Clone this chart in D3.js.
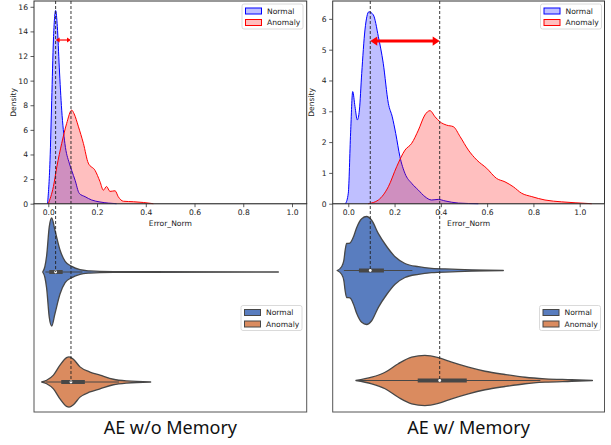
<!DOCTYPE html>
<html>
<head>
<meta charset="utf-8">
<script src="https://cdn.jsdelivr.net/npm/d3@7"></script>
<style>
body{margin:0;background:#fff;}
svg{display:block;}
</style>
</head>
<body>
<div id="chart"></div>
<script>
//panel titles and labels
let titles = ["AE w/o Memory", "AE w/ Memory"];
let groups = ["Normal", "Anomaly"];
let xTicks = [0, 0.2, 0.4, 0.6, 0.8, 1.0];
let leftYTicks = [0, 2, 4, 6, 8, 10, 12, 14, 16];
let rightYTicks = [0, 1, 2, 3, 4, 5, 6];

//KDE curves [error, density]
let leftNormalKde = [[-0.003,0],[0.007,3.5],[0.014,8.4],[0.021,13.3],[0.03,15.7],[0.037,14.4],[0.045,11.1],
	[0.055,7.6],[0.068,4.9],[0.086,3.3],[0.096,2.7],[0.11,1.9],[0.127,0.84],[0.151,0.57],[0.178,0.3],
	[0.212,0.14],[0.246,0.05],[0.28,0]];
let leftAnomalyKde = [[0.0,0],[0.021,1.4],[0.035,3.0],[0.055,4.9],[0.075,6.5],[0.096,7.6],[0.106,7.3],
	[0.123,6.3],[0.144,4.9],[0.164,3.3],[0.192,2.7],[0.212,1.8],[0.226,1.1],[0.239,1.4],[0.253,1.0],
	[0.274,1.05],[0.287,0.57],[0.308,0.2],[0.349,0.16],[0.39,0.1],[0.431,0]];
let rightNormalKde = [[-0.012,0],[0.0,0.34],[0.01,2.3],[0.019,3.64],[0.029,3.15],[0.039,2.72],[0.048,3.04],
	[0.058,4.23],[0.072,5.64],[0.089,6.23],[0.108,6.13],[0.13,5.42],[0.151,4.56],[0.173,3.26],[0.19,2.82],
	[0.205,2.28],[0.223,1.53],[0.245,0.98],[0.274,0.66],[0.303,0.44],[0.331,0.23],[0.36,0.12],[0.389,0.14],
	[0.418,0.09],[0.476,0.02],[0.562,0]];
let rightAnomalyKde = [[0.086,0],[0.13,0.12],[0.173,0.55],[0.209,1.2],[0.245,1.74],[0.274,1.96],[0.303,2.39],
	[0.331,2.88],[0.353,3.02],[0.375,2.82],[0.396,2.66],[0.425,2.55],[0.454,2.5],[0.483,2.18],[0.519,1.74],
	[0.555,1.42],[0.598,1.15],[0.641,0.82],[0.677,0.71],[0.713,0.55],[0.749,0.34],[0.793,0.23],[0.85,0.12],
	[0.922,0.06],[0.98,0.03],[1.052,0]];

//violin profiles [error, density]
let leftNormalViolin = [[-0.023,0],[-0.014,1.6],[-0.007,4.6],[0.004,13.2],[0.014,15.7],[0.027,12.2],[0.048,6.4],
	[0.069,3.1],[0.096,1.65],[0.13,0.68],[0.171,0.31],[0.212,0.16],[0.4,0.08],[0.944,0]];
let leftAnomalyViolin = [[-0.027,0],[-0.007,0.5],[0.021,2.0],[0.048,4.9],[0.075,7.1],[0.085,7.3],[0.103,6.6],
	[0.13,4.4],[0.171,2.9],[0.212,2.0],[0.267,0.8],[0.322,0.3],[0.42,0]];
let rightNormalViolin = [[-0.048,0],[-0.029,0.44],[-0.019,1.2],[-0.014,2.3],[-0.007,3.15],[0.007,3.2],[0.022,3.9],
	[0.036,5.0],[0.058,6.05],[0.079,6.3],[0.101,5.86],[0.13,4.3],[0.166,2.8],[0.202,1.6],[0.245,0.82],
	[0.303,0.44],[0.36,0.25],[0.447,0.16],[0.533,0.08],[0.67,0]];
let rightAnomalyViolin = [[0.033,0],[0.101,0.38],[0.159,0.96],[0.216,1.96],[0.274,2.72],[0.331,2.92],[0.389,2.66],
	[0.447,2.13],[0.519,1.55],[0.591,1.08],[0.677,0.7],[0.764,0.38],[0.85,0.2],[0.965,0.09],[1.055,0]];

//box stats [whiskerLo, q1, median, q3, whiskerHi]
let leftNormalBox = [-0.012, 0.004, 0.03, 0.059, 0.14];
let leftAnomalyBox = [-0.01, 0.053, 0.093, 0.15, 0.29];
let rightNormalBox = [-0.019, 0.046, 0.095, 0.154, 0.277];
let rightAnomalyBox = [0.033, 0.30, 0.395, 0.512, 0.83];

//arrow heights (density units)
let arrowLevels = [13.3, 5.28];

//sizing
let width = 611, height = 445;
let font = "DejaVu Sans, sans-serif";
let fs = 7.6;

let svg = d3.select("#chart").append("svg")
	.attr("width", width)
	.attr("height", height);

let panels = [
	{left:34, right:306.7, xDomain:[-0.0587,1.0603], yMax:16.47, yTicks:leftYTicks,
		kde:[leftNormalKde,leftAnomalyKde], violin:[leftNormalViolin,leftAnomalyViolin],
		box:[leftNormalBox,leftAnomalyBox], centers:[272,382], arrowW:1.2, headL:4, headH:2.6, arrowY:arrowLevels[0]},
	{left:332.7, right:604.5, xDomain:[-0.0674,1.1072], yMax:6.58, yTicks:rightYTicks,
		kde:[rightNormalKde,rightAnomalyKde], violin:[rightNormalViolin,rightAnomalyViolin],
		box:[rightNormalBox,rightAnomalyBox], centers:[270.5,380.5], arrowW:3, headL:7, headH:4.6, arrowY:arrowLevels[1]}
];

let topY = 1, baseY = 203.7, bottomY = 412;
let kdeColors = ["#0000ff", "#ff0000"];
let violinColors = ["#597dbf", "#da8b5f"];
let edge = "#474747";

function legend(g, x, y, fills, strokes, opac){
	let lg = g.append("g").attr("transform", `translate(${x},${y})`);
	lg.append("rect").attr("width", 61).attr("height", 25).attr("rx", 2)
		.attr("fill", "#fff").attr("fill-opacity", 0.85).attr("stroke", "#d0d0d0").attr("stroke-width", 0.8);
	groups.forEach((name, i)=>{
		lg.append("rect").attr("x", 3.5).attr("y", 4 + i*11.5).attr("width", 16).attr("height", 6)
			.attr("fill", fills[i]).attr("fill-opacity", opac).attr("stroke", strokes[i]).attr("stroke-width", 1);
		lg.append("text").attr("x", 25).attr("y", 9.8 + i*11.5)
			.attr("font-family", font).attr("font-size", fs).attr("fill", "#222").text(name);
	});
}

panels.forEach((p, pi)=>{
	let g = svg.append("g");

	let x = d3.scaleLinear().domain(p.xDomain).range([p.left, p.right]);
	let y = d3.scaleLinear().domain([0, p.yMax]).range([baseY, topY]);
	let yCat = d3.scalePoint().domain(groups).range(p.centers);
	let vmax = d3.max(p.violin[0], d=>d[1]);
	let w = d3.scaleLinear().domain([0, vmax]).range([0, 54]);

	//violin frame
	g.append("rect").attr("x", p.left).attr("y", baseY).attr("width", p.right-p.left).attr("height", bottomY-baseY)
		.attr("fill", "none").attr("stroke", "#555").attr("stroke-width", 1);

	//violins
	p.violin.forEach((v, i)=>{
		let c = yCat(groups[i]);
		let area = d3.area().x(d=>x(d[0])).y0(d=>c - w(d[1])).y1(d=>c + w(d[1])).curve(d3.curveMonotoneX);
		g.append("path").attr("d", area(v)).attr("fill", violinColors[i])
			.attr("stroke", edge).attr("stroke-width", 1.3).attr("stroke-linejoin", "round");
		let b = p.box[i];
		g.append("line").attr("x1", x(b[0])).attr("x2", x(b[4])).attr("y1", c).attr("y2", c)
			.attr("stroke", edge).attr("stroke-width", 1.2);
		g.append("line").attr("x1", x(b[1])).attr("x2", x(b[3])).attr("y1", c).attr("y2", c)
			.attr("stroke", edge).attr("stroke-width", 4);
		g.append("circle").attr("cx", x(b[2])).attr("cy", c).attr("r", 1.4).attr("fill", "#fff");
	});

	legend(g, pi === 0 ? 241 : 539.5, 305.5, violinColors, [edge, edge], 1);

	//KDE background
	g.append("rect").attr("x", p.left).attr("y", topY).attr("width", p.right-p.left).attr("height", baseY-topY)
		.attr("fill", "#fff");

	//KDE curves
	p.kde.forEach((k, i)=>{
		let area = d3.area().x(d=>x(d[0])).y0(baseY).y1(d=>y(d[1])).curve(d3.curveMonotoneX);
		let line = d3.line().x(d=>x(d[0])).y(d=>y(d[1])).curve(d3.curveMonotoneX);
		g.append("path").attr("d", area(k)).attr("fill", kdeColors[i]).attr("fill-opacity", 0.25);
		g.append("path").attr("d", line(k)).attr("fill", "none").attr("stroke", kdeColors[i]).attr("stroke-width", 1);
	});

	//axes
	let xAxis = d3.axisBottom(x).tickValues(xTicks).tickFormat(d3.format(".1f")).tickSizeOuter(0).tickSize(3.5).tickPadding(2);
	let xa = g.append("g").attr("transform", `translate(0,${baseY})`).call(xAxis);
	let yAxis = d3.axisLeft(y).tickValues(p.yTicks).tickFormat(d3.format("d")).tickSizeOuter(0).tickSize(3.5).tickPadding(2.5);
	let ya = g.append("g").attr("transform", `translate(${p.left},0)`).call(yAxis);
	[xa, ya].forEach(a=>{
		a.select(".domain").remove();
		a.selectAll("line").attr("stroke", "#333").attr("stroke-width", 0.8);
		a.selectAll("text").attr("font-family", font).attr("font-size", fs).attr("fill", "#222");
	});

	g.append("rect").attr("x", p.left).attr("y", topY).attr("width", p.right-p.left).attr("height", baseY-topY)
		.attr("fill", "none").attr("stroke", "#333").attr("stroke-width", 1);

	g.append("text").attr("x", (p.left+p.right)/2).attr("y", 226)
		.attr("text-anchor", "middle").attr("font-family", font).attr("font-size", fs).attr("fill", "#222")
		.text("Error_Norm");
	g.append("text").attr("transform", `translate(${p.left-18.5},${(topY+baseY)/2}) rotate(-90)`)
		.attr("text-anchor", "middle").attr("font-family", font).attr("font-size", fs).attr("fill", "#222")
		.text("Density");

	legend(g, pi === 0 ? 242 : 540.5, 4, kdeColors, kdeColors, 0.25);

	//dashed median lines
	p.box.forEach((b, i)=>{
		g.append("line").attr("x1", x(b[2])).attr("x2", x(b[2])).attr("y1", topY).attr("y2", yCat(groups[i]))
			.attr("stroke", "#222").attr("stroke-width", 0.9).attr("stroke-dasharray", "3,2");
	});

	//red double arrow between medians
	let xa1 = x(p.box[0][2]), xa2 = x(p.box[1][2]), ay = y(p.arrowY);
	g.append("line").attr("x1", xa1 + p.headL - 1).attr("x2", xa2 - p.headL + 1).attr("y1", ay).attr("y2", ay)
		.attr("stroke", "#ff0000").attr("stroke-width", p.arrowW);
	g.append("path").attr("d", `M${xa1},${ay}L${xa1+p.headL},${ay-p.headH}L${xa1+p.headL},${ay+p.headH}Z`).attr("fill", "#ff0000");
	g.append("path").attr("d", `M${xa2},${ay}L${xa2-p.headL},${ay-p.headH}L${xa2-p.headL},${ay+p.headH}Z`).attr("fill", "#ff0000");

	//title
	g.append("text").attr("x", (p.left+p.right)/2).attr("y", 434)
		.attr("text-anchor", "middle").attr("font-family", "Noto Sans, sans-serif").attr("font-size", 18)
		.attr("fill", "#111").text(titles[pi]);
});
</script>
</body>
</html>
